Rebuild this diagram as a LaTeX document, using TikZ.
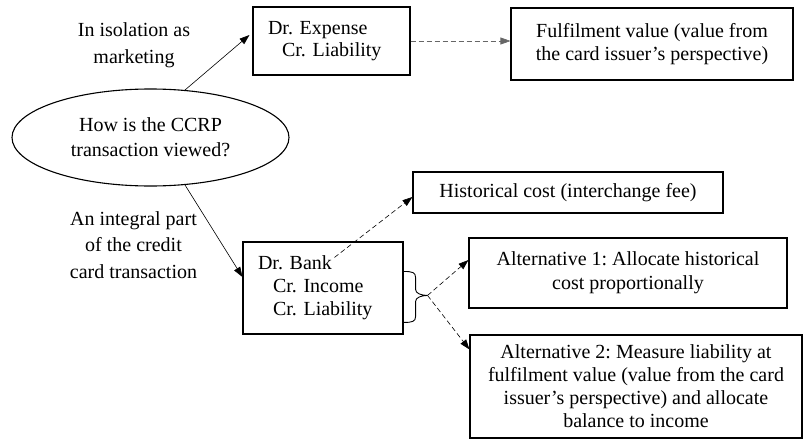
\documentclass[tikz,border=0pt]{standalone}
\usepackage{fontspec}
\setmainfont{Liberation Serif}
\frenchspacing
\usetikzlibrary{shapes.geometric,arrows.meta,calc}

\begin{document}
\begin{tikzpicture}[x=1pt,y=-1pt,>={Triangle[length=10pt,width=7pt]},font=\fontsize{20}{23}\selectfont]
    \tikzstyle{entry}=[draw,line width=1.1pt,inner sep=0pt]
    \tikzstyle{choice}=[entry,align=center]
    \tikzstyle{view}=[align=center]
    \tikzstyle{solid link}=[->,line width=0.6pt]
    \tikzstyle{dashed link}=[->,line width=0.6pt,dash pattern=on 5pt off 3pt]

    \useasboundingbox (0,0) rectangle (803,439);

    % Question in the middle of the left side
    \node[ellipse,draw,line width=1.1pt,minimum width=277,minimum height=97,inner sep=0pt,align=center,font=\fontsize{20}{25}\selectfont] (q) at (150.5,137.5) {How is the CCRP\\transaction viewed?};

    % The two views
    \node[view,font=\fontsize{20}{27}\selectfont] (isol) at (134,45) {In isolation as\\marketing};
    \node[view,font=\fontsize{20}{26.5}\selectfont] (integ) at (133.5,245) {An integral part\\of the credit\\card transaction};

    % Journal entries
    \node[entry,minimum width=157,minimum height=68,text width=127,align=left,font=\fontsize{20}{22}\selectfont] (expense) at (331.5,41) {Dr. Expense\\\hspace*{14pt}Cr. Liability};
    \node[entry,minimum width=160,minimum height=92,text width=130,align=left] (bank) at (323,288) {Dr. Bank\\\hspace*{15pt}Cr. Income\\\hspace*{15pt}Cr. Liability};

    % Measurement bases
    \node[choice,minimum width=282,minimum height=72] (fulfil) at (652,44) {Fulfilment value (value from\\the card issuer's perspective)};
    \node[choice,minimum width=310,minimum height=41] (hist) at (568,192.5) {Historical cost (interchange fee)};
    \node[choice,minimum width=318,minimum height=70,font=\fontsize{20}{24}\selectfont] (alt1) at (628,273) {Alternative 1: Allocate historical\\cost proportionally};
    \node[choice,minimum width=332,minimum height=103] (alt2) at (636,386.5) {Alternative 2: Measure liability at\\fulfilment value (value from the card\\issuer's perspective) and allocate\\balance to income};

    % Question to entries
    \draw[solid link] (q.54) -- ([xshift=-3,yshift=6]expense.west);
    \draw[solid link] (q.-54) -- ([yshift=11]bank.west);

    % Entries to measurement
    \draw[dashed link,black!60] (expense.east) -- (expense.east -| fulfil.west);
    \coordinate (bankout) at ($(bank.north west)+(92,16)$);
    \draw[dashed link] (bankout) -- ([yshift=-4.5]hist.west);

    % Brace over the two credits
    \draw[line width=0.9pt] ([yshift=-30]bank.north east)
        .. controls +(9,0) and +(0,-5) .. ++(12,6) -- ++(0,12)
        .. controls +(0,4) and +(-6,0) .. ++(12,6) coordinate (fork)
        .. controls +(-6,0) and +(0,-4) .. ++(-12,6) -- ++(0,15)
        .. controls +(0,5) and +(9,0) .. ++(-12,6);
    \draw[dashed link] (fork) -- ([yshift=13]alt1.west);
    \draw[dashed link] (fork) -- ([yshift=-15]alt2.north west);

\end{tikzpicture}
\end{document}
